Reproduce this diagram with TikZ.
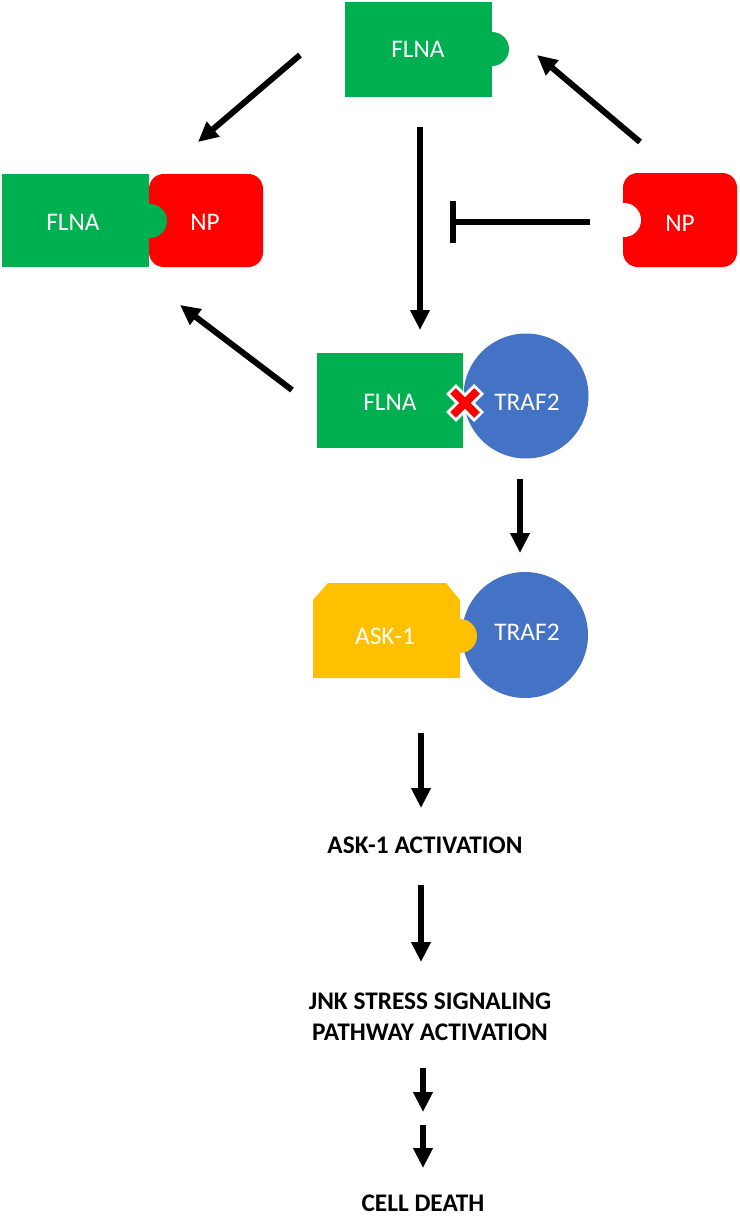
\documentclass[tikz,border=0pt]{standalone}
\usepackage{fontspec}
\setmainfont{Carlito}
\usepackage{tikz}
\usetikzlibrary{arrows.meta}

\definecolor{flnagreen}{HTML}{00B050}
\definecolor{npred}{HTML}{FF0000}
\definecolor{trafblue}{HTML}{4472C4}
\definecolor{askyellow}{HTML}{FFC000}

\tikzset{
  prot/.style = {text=white, font=\fontsize{19}{22}\selectfont},
  stage/.style = {font=\fontsize{19}{23}\selectfont\bfseries, align=center},
  act/.style = {line width=4.5pt, -{Triangle[width=14pt,length=15pt]}},
  inhib/.style = {line width=4pt, -{Bar[width=31pt,line width=4.5pt]}},
}

\begin{document}
\begin{tikzpicture}[x=0.75pt, y=-0.75pt]
\useasboundingbox (0,0) rectangle (739,1217);

% free FLNA
\fill[flnagreen] (345,2) rectangle (492,97);
\fill[flnagreen] (492,49) circle (17);
\node[prot] (flnaTop) at (418,49) {FLNA};

% FLNA bound to NP
\fill[npred, rounded corners=11pt] (149,174) rectangle (263,267);
\fill[flnagreen] (2,174) rectangle (149,267);
\fill[flnagreen] (150,221) circle (17);
\node[prot] (flnaNP) at (73,222) {FLNA};
\node[prot] (npBound) at (205,222) {NP};

% free NP
\fill[npred, rounded corners=11pt] (623,173) rectangle (737,267);
\fill[white] (624,220) circle (17);
\node[prot] (npFree) at (680,223) {NP};

% FLNA with TRAF2
\fill[flnagreen] (317,353) rectangle (463,448);
\fill[trafblue] (526,396) circle (62.5);
\node[prot] (flnaTraf) at (390,402) {FLNA};
\node[prot] (trafA) at (527,402) {TRAF2};
\begin{scope}[shift={(465,403)}]
  \draw[white, line width=10.5pt] (-14,-14) -- (14,14) (-14,14) -- (14,-14);
  \draw[npred, line width=6pt] (-12,-12) -- (12,12) (-12,12) -- (12,-12);
\end{scope}

% ASK-1 with TRAF2
\fill[askyellow] (313,600) -- (328,583) -- (446,583) -- (460,600) -- (460,678) -- (313,678) -- cycle;
\fill[trafblue] (525,635) circle (63);
\fill[askyellow] (460,636) circle (17);
\node[prot] (ask) at (385,636) {ASK-1};
\node[prot] (trafB) at (527,632) {TRAF2};

% outcome
\node[stage] (askAct) at (425,845) {ASK-1 ACTIVATION};
\node[stage] (jnk) at (430,1017) {JNK STRESS SIGNALING\\PATHWAY ACTIVATION};
\node[stage] (death) at (423,1203) {CELL DEATH};

% arrow ends
\coordinate (tlS) at (300,55);   \coordinate (tlE) at (198,142);
\coordinate (trS) at (640,142);  \coordinate (trE) at (537,55);
\coordinate (vS) at (420,127);   \coordinate (vE) at (420,330);
\coordinate (blS) at (292,390);  \coordinate (blE) at (180,305);
\coordinate (inS) at (590,222);  \coordinate (inE) at (450,222);
\coordinate (d1S) at (520,479);  \coordinate (d1E) at (520,553);
\coordinate (d2S) at (421,733);  \coordinate (d2E) at (421,808);
\coordinate (d3S) at (421,885);  \coordinate (d3E) at (421,962);
\coordinate (d4S) at (423,1068); \coordinate (d4E) at (423,1112);
\coordinate (d5S) at (423,1125); \coordinate (d5E) at (423,1168);

\draw[act] (tlS) -- (tlE);
\draw[act] (trS) -- (trE);
\draw[act] (vS) -- (vE);
\draw[act] (blS) -- (blE);
\draw[inhib] (inS) -- (inE);
\foreach \n in {d1,d2,d3,d4,d5}
  \draw[act] (\n S) -- (\n E);

\end{tikzpicture}
\end{document}
